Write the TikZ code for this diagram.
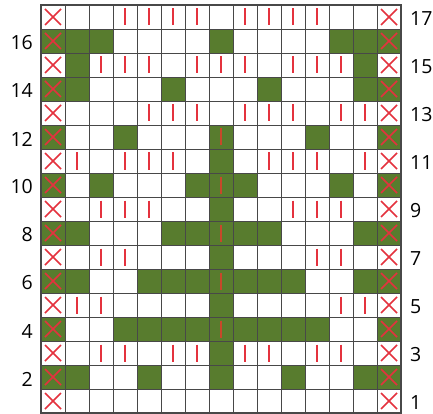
\documentclass[tikz,border=0pt]{standalone}
\usepackage{fontspec}
\setmainfont{Open Sans}
\definecolor{cgreen}{RGB}{88,124,46}
\definecolor{cred}{RGB}{228,50,62}
\definecolor{cbar}{RGB}{200,72,42}
\definecolor{cgrid}{RGB}{72,72,72}
\tikzset{
  gridline/.style={draw=cgrid, line width=0.9pt},
  cellfill/.style={fill=cgreen},
  crossmark/.style={draw=cred, line width=1.6pt},
  barmark/.style={draw=cred, line width=2pt},
  barmarkg/.style={draw=cbar, line width=2pt},
  lbl/.style={inner sep=0pt, font=\fontsize{19.5}{20}\selectfont, text=black}
}
\begin{document}
\begin{tikzpicture}[x=1pt,y=-1pt]
\useasboundingbox (0,0) rectangle (433,414);
\fill[white] (0,0) rectangle (433,414);
% green cells
\foreach \r/\cols in {16/{1,2,3,8,13,14,15},15/{2,14},14/{1,2,6,10,14,15},
  12/{1,4,8,12,15},11/{8},10/{1,3,7,8,9,13,15},9/{8},8/{1,2,6,7,8,9,10,14,15},
  7/{8},6/{1,2,5,6,7,8,9,10,11,14,15},5/{8},4/{1,4,5,6,7,8,9,10,11,12,15},
  3/{8},2/{1,2,5,8,11,14,15}}{
  \foreach \c in \cols {
    \fill[cellfill] ({41+(\c-1)*24},{5+(17-\r)*24}) rectangle ++(24,24);
  }
}
% grid
\foreach \i in {0,...,15} \draw[gridline] ({41+24*\i},5) -- ({41+24*\i},413);
\foreach \j in {0,...,17} \draw[gridline] (41,{5+24*\j}) -- (401,{5+24*\j});
\draw[draw=cgrid, line width=1.4pt] (41,5) rectangle (401,413);
% crosses
\foreach \r in {1,...,17}{
  \foreach \c in {1,15}{
    \draw[crossmark] ({41+(\c-1)*24+4},{5+(17-\r)*24+4}) -- ++(16,16)
                     ({41+(\c-1)*24+20},{5+(17-\r)*24+4}) -- ++(-16,16);
  }
}
% bars on white
\foreach \r/\cols in {17/{4,5,6,7,9,10,11,12},15/{3,4,5,7,8,9,11,12,13},
  13/{5,6,7,9,10,11,13,14},11/{2,4,5,6,10,11,12,14},9/{3,4,5,11,12,13},
  7/{3,4,12,13},5/{2,3,13,14},3/{3,4,6,7,9,10,12,13}}{
  \foreach \c in \cols {
    \draw[barmark] ({41+(\c-1)*24+12},{5+(17-\r)*24+3.5}) -- ++(0,17);
  }
}
% bars on green
\foreach \r in {12,10,8,6,4}{
  \draw[barmarkg] ({41+7*24+12},{5+(17-\r)*24+3.5}) -- ++(0,17);
}
% labels
\foreach \r in {16,14,...,2}{
  \node[lbl, anchor=east] (L\r) at (33,{5+(17-\r)*24+14}) {\r};
}
\foreach \r in {17,15,...,1}{
  \node[lbl, anchor=west] (L\r) at (410,{5+(17-\r)*24+14}) {\r};
}
\end{tikzpicture}
\end{document}
